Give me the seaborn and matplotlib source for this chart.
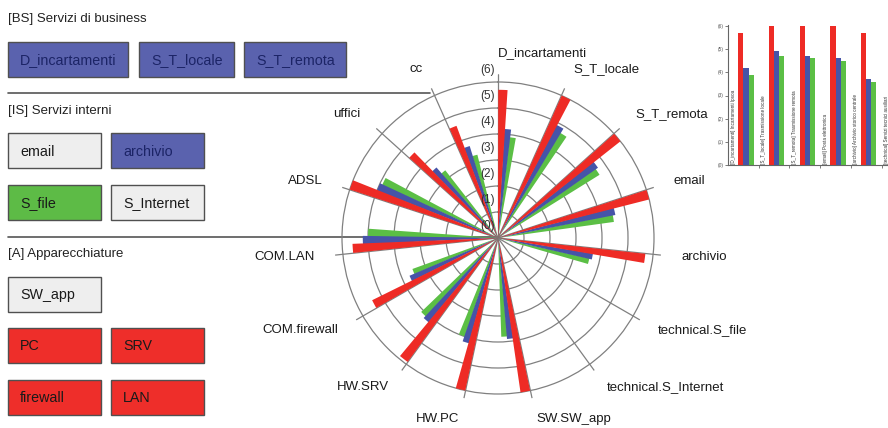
import numpy as np
import pandas as pd
import matplotlib
matplotlib.use('Agg')
import matplotlib.pyplot as plt
import seaborn as sns
from matplotlib.patches import Rectangle
from matplotlib.lines import Line2D

# ── Data ────────────────────────────────────────────────────────────────────
categories = ['D_incartamenti', 'S_T_locale', 'S_T_remota', 'email', 'archivio',
              'technical.S_file', 'technical.S_Internet', 'SW.SW_app', 'HW.PC',
              'HW.SRV', 'COM.firewall', 'COM.LAN', 'ADSL', 'uffici', 'cc']
red_vals   = [5.7, 6.0, 6.0, 6.0, 5.7, 0, 0, 6.0, 6.0, 5.9, 5.4, 5.6, 6.0, 4.6, 4.6]
blue_vals  = [4.2, 4.9, 4.7, 4.6, 3.7, 0, 0, 3.9, 4.2, 4.2, 3.7, 5.2, 5.0, 3.6, 3.7]
green_vals = [3.9, 4.7, 4.6, 4.5, 3.6, 0, 0, 3.8, 4.0, 4.1, 3.5, 5.0, 4.9, 3.3, 3.3]
series = ['red', 'blue', 'green']
r_ticks = [0, 1, 2, 3, 4, 5, 6]
r_tick_labels = ['(0)', '(1)', '(2)', '(3)', '(4)', '(5)', '(6)']

inset_cats = ['D_incartamenti', 'S_T_locale', 'S_T_remota', 'email', 'archivio', 'technical']
inset_labels = ['[D_incartamenti] Incartamenti Ipsoa',
                '[S_T_locale] Trasmissione locale',
                '[S_T_remota] Trasmissione remota',
                '[email] Posta elettronica',
                '[archivio] Archivio storico centrale',
                '[technical] Servizi tecnici ausiliari']
inset_red   = [5.7, 6.0, 6.0, 6.0, 5.7, 0]
inset_blue  = [4.2, 4.9, 4.7, 4.6, 3.7, 0]
inset_green = [3.9, 4.7, 4.6, 4.5, 3.6, 0]

sections = ['[BS] Servizi di business', '[IS] Servizi interni', '[A] Apparecchiature']
box_labels = ['D_incartamenti', 'S_T_locale', 'S_T_remota',
              'email', 'archivio', 'S_file', 'S_Internet',
              'SW_app', 'PC', 'SRV', 'firewall', 'LAN']
box_kinds = ['blue', 'blue', 'blue',
             'grey', 'blue', 'green', 'grey',
             'grey', 'red', 'red', 'red', 'red']

# ── Style ───────────────────────────────────────────────────────────────────
sns.set_theme(style='white')
plt.rcParams['font.family'] = ['Liberation Sans', 'DejaVu Sans']

colors = {'red': '#ee2b25', 'blue': '#4654a8', 'green': '#5bbf45'}
box_fill = {'blue': '#5a62ae', 'grey': '#eeeeee', 'green': '#5dbb46', 'red': '#ee2e2a'}
grid_col = '#808080'

W, H = 888, 428
fig = plt.figure(figsize=(W / 100, H / 100), dpi=100)

# background axes in pixel coords for the left panel
bg = fig.add_axes([0, 0, 1, 1])
bg.set_xlim(0, W)
bg.set_ylim(H, 0)
bg.axis('off')

# ── Left legend panel ───────────────────────────────────────────────────────
section_y = [19, 111, 254]
for txt, y in zip(sections, section_y):
    bg.text(8, y, txt, fontsize=9.5, color='#222222', va='center', ha='left')

box_layout = [(8, 42, 120), (139, 42, 95), (244, 42, 102),
              (8, 133, 93), (111, 133, 93), (8, 185, 93), (111, 185, 93),
              (8, 277, 93), (8, 328, 93), (111, 328, 93), (8, 380, 93), (111, 380, 93)]
box_h = 35
for lab, kind, (x, y, w) in zip(box_labels, box_kinds, box_layout):
    bg.add_patch(Rectangle((x, y), w, box_h, facecolor=box_fill[kind],
                           edgecolor='#505050', lw=1.0))
    tcol = '#1c2466' if kind == 'blue' else '#1a1a1a'
    bg.text(x + 12, y + box_h / 2 + 1, lab, fontsize=10.3, color=tcol,
            va='center', ha='left')

bg.add_line(Line2D([8, 430], [93, 93], color='#555555', lw=1.2))
bg.add_line(Line2D([8, 498], [237, 237], color='#555555', lw=1.2))

# ── Polar bar chart ─────────────────────────────────────────────────────────
cx, cy = 498, 238
rmax = 6.3
R = 156 * rmax / 6
ax = fig.add_axes([(cx - R) / W, (H - cy - R) / H, 2 * R / W, 2 * R / H],
                  projection='polar')
ax.set_theta_zero_location('N')
ax.set_theta_direction(-1)
ax.patch.set_alpha(0)

n = len(categories)
step = 2 * np.pi / n
base = np.arange(n) * step
bw = np.deg2rad(3.6)
for k, (name, vals) in enumerate(zip(series, [red_vals, blue_vals, green_vals])):
    ax.bar(base + np.deg2rad(1.9 + 3.2 * k), vals, width=bw, color=colors[name],
           edgecolor='none', zorder=3 - 0.1 * k)

ax.set_ylim(0, rmax)
ax.set_yticks(r_ticks[1:])
ax.set_yticklabels([])
ax.set_xticks(base)
ax.set_xticklabels([])
ax.grid(True, color=grid_col, lw=0.9)
ax.spines['polar'].set_visible(False)

for t, lab in zip(base, categories):
    s = np.sin(t)
    ha = 'right' if s < -1e-6 else 'left'
    ax.text(t, 7.1, lab, ha=ha, va='center', fontsize=9.5, color='#1a1a1a')

for r, lab in zip(r_ticks, r_tick_labels):
    ax.annotate(lab, xy=(0, r + 0.45), xytext=(-2, 0), textcoords='offset points',
                ha='right', va='center', fontsize=8.5, color='#333333', zorder=4,
                annotation_clip=False)

# ── Inset bar chart (top right) ─────────────────────────────────────────────
period = 30.7
ngroups = len(inset_cats)
left_off = 0.586
ix0, iy0 = 728, 165
ih = 139 * 6.05 / 6
axi = fig.add_axes([ix0 / W, (H - iy0) / H, ngroups * period / W, ih / H])
df = pd.DataFrame({
    'cat': np.repeat(inset_cats, 3),
    'series': series * ngroups,
    'value': np.ravel(np.column_stack([inset_red, inset_blue, inset_green])),
})
sns.barplot(data=df, x='cat', y='value', hue='series', order=inset_cats,
            hue_order=series, palette=colors, width=0.5, ax=axi,
            legend=False, saturation=1, edgecolor='none')
axi.set_xlim(-left_off, ngroups - left_off)
axi.set_ylim(0, 6.05)
axi.set_xlabel('')
axi.set_ylabel('')
axi.set_xticks(np.arange(ngroups) + 1 - left_off)
axi.set_xticklabels([])
axi.set_yticks(r_ticks)
axi.set_yticklabels(r_tick_labels, fontsize=3.5, color='#555555')
axi.tick_params(axis='both', length=2, width=0.6, color='#666666', pad=1,
                left=True, bottom=True, direction='out')
for side in ['top', 'right']:
    axi.spines[side].set_visible(False)
for side in ['left', 'bottom']:
    axi.spines[side].set_color('#666666')
    axi.spines[side].set_linewidth(0.8)
axi.patch.set_alpha(0)
for i, lab in enumerate(inset_labels):
    axi.text(i - 0.42, 0.06, lab, rotation=90, ha='center', va='bottom',
             fontsize=3.3, color='#333333')

fig.savefig('out.png', dpi=100)
